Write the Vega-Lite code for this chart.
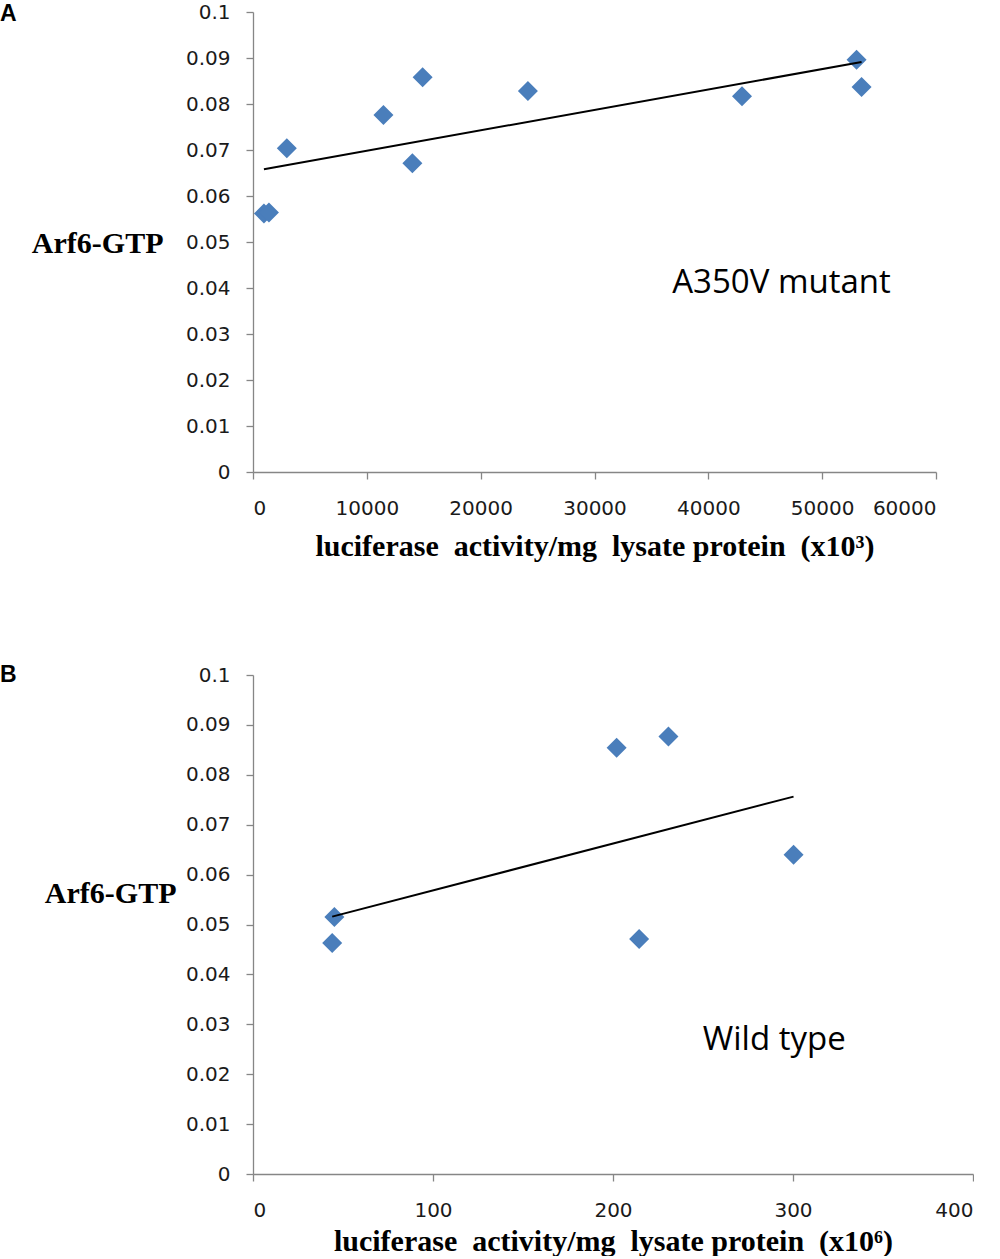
{
  "$schema": "https://vega.github.io/schema/vega-lite/v6.json",
  "background": "white",
  "padding": {"left": 0, "top": 2, "right": 0, "bottom": 0},
  "spacing": 103,
  "align": "none",
  "config": {
    "view": {"stroke": null},
    "axis": {
      "grid": false,
      "domainColor": "#868686",
      "tickColor": "#868686",
      "domainWidth": 1.3,
      "tickWidth": 1.3,
      "tickSize": 7,
      "labelFont": "DejaVu Sans",
      "labelFontSize": 20,
      "labelColor": "#1a1a1a",
      "titleFont": "Liberation Serif",
      "titleFontWeight": "bold",
      "titleFontSize": 30,
      "titleColor": "#000000"
    }
  },
  "vconcat": [
    {
      "width": 683,
      "height": 460,
      "title": {"text": "A", "anchor": "start", "frame": "group", "baseline": "alphabetic", "dx": -253, "offset": -42, "font": "Liberation Sans", "fontSize": 23, "fontWeight": "bold", "color": "#000000"},
      "layer": [
        {
          "data": {"values": [
            {"luciferase": 960, "arf6": 0.0562},
            {"luciferase": 1400, "arf6": 0.0564},
            {"luciferase": 2970, "arf6": 0.0704},
            {"luciferase": 11460, "arf6": 0.0776},
            {"luciferase": 14000, "arf6": 0.0671},
            {"luciferase": 14900, "arf6": 0.0858},
            {"luciferase": 24150, "arf6": 0.0828},
            {"luciferase": 42960, "arf6": 0.0817},
            {"luciferase": 53020, "arf6": 0.0896},
            {"luciferase": 53460, "arf6": 0.0837}
          ]},
          "layer": [
            {
              "mark": {"type": "point", "shape": "diamond", "filled": true, "size": 400, "color": "#4a7ebb", "opacity": 1},
              "encoding": {
                "x": {"field": "luciferase", "type": "quantitative", "scale": {"domain": [0, 60000], "nice": false},
                  "axis": {"values": [0, 10000, 20000, 30000, 40000, 50000, 60000], "format": "d", "labelPadding": 19,
                    "title": "luciferase\u00a0 activity/mg\u00a0 lysate protein\u00a0 (x10³)", "titleY": 83, "titleBaseline": "alphabetic"}},
                "y": {"field": "arf6", "type": "quantitative", "scale": {"domain": [0, 0.1], "nice": false},
                  "axis": {"values": [0, 0.01, 0.02, 0.03, 0.04, 0.05, 0.06, 0.07, 0.08, 0.09, 0.1], "format": "~g", "labelPadding": 16,
                    "title": "Arf6-GTP", "titleAngle": 0, "titleAlign": "right", "titleBaseline": "alphabetic", "titleX": -90, "titleY": 240}}
              }
            },
            {
              "transform": [{"regression": "arf6", "on": "luciferase"}],
              "mark": {"type": "line", "color": "#000000", "strokeWidth": 2},
              "encoding": {
                "x": {"field": "luciferase", "type": "quantitative"},
                "y": {"field": "arf6", "type": "quantitative"}
              }
            }
          ]
        },
        {
          "data": {"values": [{"luciferase": 36822, "arf6": 0.0411, "label": "A350V mutant"}]},
          "mark": {"type": "text", "align": "left", "baseline": "middle", "font": "Open Sans", "fontSize": 33, "color": "#000000"},
          "encoding": {
            "x": {"field": "luciferase", "type": "quantitative"},
            "y": {"field": "arf6", "type": "quantitative"},
            "text": {"field": "label"}
          }
        }
      ]
    },
    {
      "width": 720,
      "height": 499,
      "title": {"text": "B", "anchor": "start", "frame": "group", "baseline": "alphabetic", "dx": -253, "offset": -40, "font": "Liberation Sans", "fontSize": 23, "fontWeight": "bold", "color": "#000000"},
      "layer": [
        {
          "data": {"values": [
            {"luciferase": 45.2, "arf6": 0.0515},
            {"luciferase": 44.0, "arf6": 0.0463},
            {"luciferase": 202.0, "arf6": 0.0854},
            {"luciferase": 230.8, "arf6": 0.0877},
            {"luciferase": 214.5, "arf6": 0.0471},
            {"luciferase": 300.3, "arf6": 0.0640}
          ]},
          "layer": [
            {
              "mark": {"type": "point", "shape": "diamond", "filled": true, "size": 400, "color": "#4a7ebb", "opacity": 1},
              "encoding": {
                "x": {"field": "luciferase", "type": "quantitative", "scale": {"domain": [0, 400], "nice": false},
                  "axis": {"values": [0, 100, 200, 300, 400], "format": "d", "labelPadding": 19,
                    "title": "luciferase\u00a0 activity/mg\u00a0 lysate protein\u00a0 (x10⁶)", "titleY": 76, "titleBaseline": "alphabetic"}},
                "y": {"field": "arf6", "type": "quantitative", "scale": {"domain": [0, 0.1], "nice": false},
                  "axis": {"values": [0, 0.01, 0.02, 0.03, 0.04, 0.05, 0.06, 0.07, 0.08, 0.09, 0.1], "format": "~g", "labelPadding": 16,
                    "title": "Arf6-GTP", "titleAngle": 0, "titleAlign": "right", "titleBaseline": "alphabetic", "titleX": -77, "titleY": 227}}
              }
            },
            {
              "transform": [{"regression": "arf6", "on": "luciferase"}],
              "mark": {"type": "line", "color": "#000000", "strokeWidth": 2},
              "encoding": {
                "x": {"field": "luciferase", "type": "quantitative"},
                "y": {"field": "arf6", "type": "quantitative"}
              }
            }
          ]
        },
        {
          "data": {"values": [{"luciferase": 249.9, "arf6": 0.0269, "label": "Wild type"}]},
          "mark": {"type": "text", "align": "left", "baseline": "middle", "font": "Open Sans", "fontSize": 33, "color": "#000000"},
          "encoding": {
            "x": {"field": "luciferase", "type": "quantitative"},
            "y": {"field": "arf6", "type": "quantitative"},
            "text": {"field": "label"}
          }
        }
      ]
    }
  ]
}
